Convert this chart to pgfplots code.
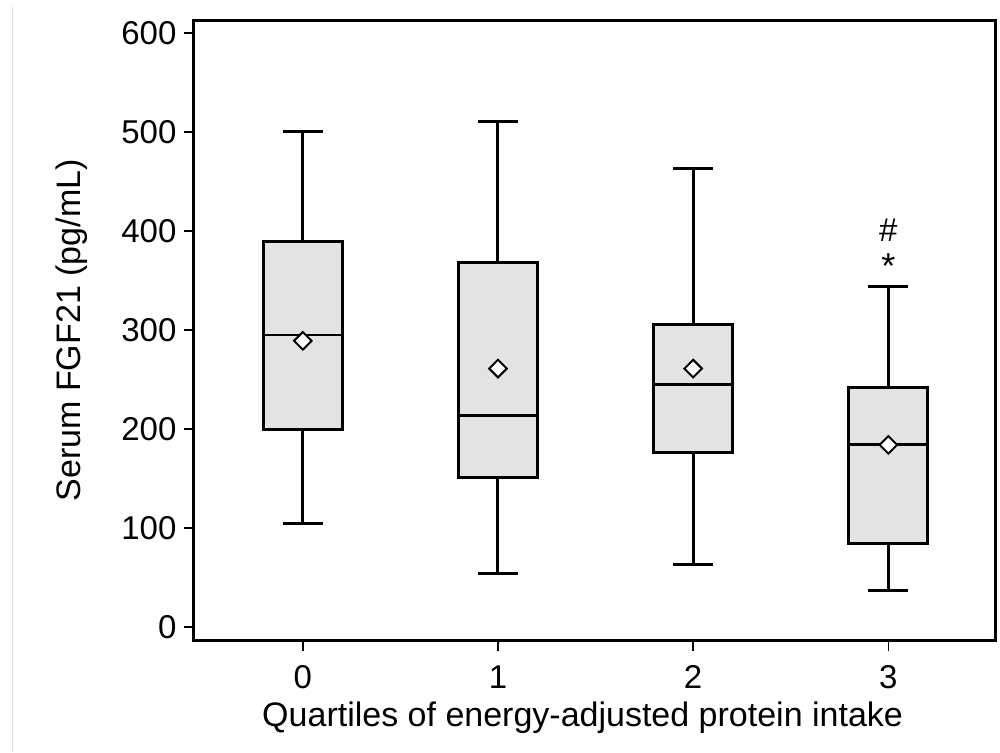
\documentclass[border=0pt]{standalone}
\usepackage{fontspec}
\setmainfont{Liberation Sans}
\usepackage{pgfplots}
\pgfplotsset{compat=1.18}
\definecolor{boxgray}{HTML}{E3E3E3}
\begin{document}
\begin{tikzpicture}
\begin{axis}[
  scale only axis, width=401.1pt, height=310.35pt,
  xmin=-0.56, xmax=3.55, ymin=-13.8, ymax=613,
  xtick={0,1,2,3}, ytick={0,100,200,300,400,500,600},
  tick align=outside, xtick pos=bottom, ytick pos=left,
  major tick length=5pt,
  axis line style={line width=1.5pt, black},
  tick style={line width=0.8pt, black},
  /pgf/number format/assume math mode=true,
  ticklabel style={font=\fontsize{16.5}{18}\selectfont},
  xticklabel style={yshift=-4pt},
  xlabel={Quartiles of energy-adjusted protein intake},
  ylabel={Serum FGF21 (pg/mL)},
  label style={font=\fontsize{17}{19}\selectfont},
  xlabel style={at={(axis description cs:0.5,0)}, anchor=center, yshift=-38.7pt, xshift=-6pt},
  ylabel style={at={(axis description cs:0,0.5)}, anchor=center, yshift=61pt},
  clip=false,
]
% box 0: whiskers 105/500, quartiles 199/389, median 295
\addplot[draw=black, line width=1.5pt] coordinates {(0,389) (0,500)};
\addplot[draw=black, line width=1.5pt] coordinates {(0,199) (0,105)};
\addplot[draw=black, line width=1.5pt] coordinates {(-0.1025,500) (0.1025,500)};
\addplot[draw=black, line width=1.5pt] coordinates {(-0.1025,105) (0.1025,105)};
\addplot[fill=boxgray, draw=black, line width=1.5pt] coordinates {(-0.2025,199) (0.2025,199) (0.2025,389) (-0.2025,389)} -- cycle;
\addplot[draw=black, line width=0.75pt] coordinates {(-0.2025,295) (0.2025,295)};
% box 1: 54/511, 151/368, 214
\addplot[draw=black, line width=1.5pt] coordinates {(1,368) (1,511)};
\addplot[draw=black, line width=1.5pt] coordinates {(1,151) (1,54)};
\addplot[draw=black, line width=1.5pt] coordinates {(0.8975,511) (1.1025,511)};
\addplot[draw=black, line width=1.5pt] coordinates {(0.8975,54) (1.1025,54)};
\addplot[fill=boxgray, draw=black, line width=1.5pt] coordinates {(0.7975,151) (1.2025,151) (1.2025,368) (0.7975,368)} -- cycle;
\addplot[draw=black, line width=1.5pt] coordinates {(0.7975,214) (1.2025,214)};
% box 2: 63/463, 176/306, 245
\addplot[draw=black, line width=1.5pt] coordinates {(2,306) (2,463)};
\addplot[draw=black, line width=1.5pt] coordinates {(2,176) (2,63)};
\addplot[draw=black, line width=1.5pt] coordinates {(1.8975,463) (2.1025,463)};
\addplot[draw=black, line width=1.5pt] coordinates {(1.8975,63) (2.1025,63)};
\addplot[fill=boxgray, draw=black, line width=1.5pt] coordinates {(1.7975,176) (2.2025,176) (2.2025,306) (1.7975,306)} -- cycle;
\addplot[draw=black, line width=1.5pt] coordinates {(1.7975,245) (2.2025,245)};
% box 3: 37/344, 84.5/242, 184
\addplot[draw=black, line width=1.5pt] coordinates {(3,242) (3,344)};
\addplot[draw=black, line width=1.5pt] coordinates {(3,84.5) (3,37)};
\addplot[draw=black, line width=1.5pt] coordinates {(2.8975,344) (3.1025,344)};
\addplot[draw=black, line width=1.5pt] coordinates {(2.8975,37) (3.1025,37)};
\addplot[fill=boxgray, draw=black, line width=1.5pt] coordinates {(2.7975,84.5) (3.2025,84.5) (3.2025,242) (2.7975,242)} -- cycle;
\addplot[draw=black, line width=1.5pt] coordinates {(2.7975,184) (3.2025,184)};
% means
\addplot[only marks, mark=square*, mark size=3.1pt, mark options={rotate=45, fill=white, draw=black, line width=1pt}]
  coordinates {(0,289) (1,261) (2,261) (3,184)};
\node[font=\fontsize{18}{20}\selectfont] at (axis cs:3,364) {*};
\node[font=\fontsize{16.5}{18}\selectfont] at (axis cs:3,401) {\#};
\end{axis}
\draw[black!12, line width=0.6pt] (-90.5pt,-55.65pt) -- (-90.5pt,317pt);
\pgfresetboundingbox
\path[use as bounding box] (-96.75pt,-55.65pt) rectangle (403.25pt,320.35pt);
\end{tikzpicture}
\end{document}
